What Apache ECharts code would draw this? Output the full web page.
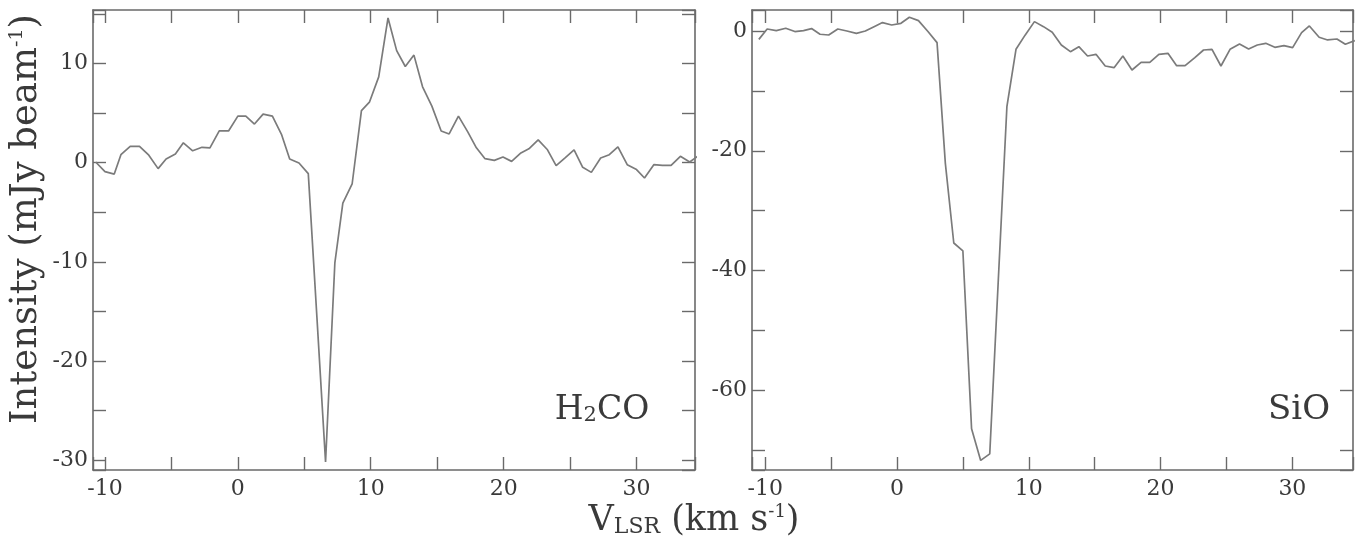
<!DOCTYPE html>
<html>
<head>
<meta charset="utf-8">
<script src="https://cdn.jsdelivr.net/npm/echarts@6/dist/echarts.min.js"></script>
<style>
html,body{margin:0;padding:0;background:#fff;}
#c{width:1372px;height:546px;}
</style>
</head>
<body>
<div id="c"></div>
<script>
// H2CO spectrum
var h2coVel = [-10.7,-10.0,-9.3,-8.8,-8.1,-7.4,-6.7,-6.0,-5.4,-4.7,-4.1,-3.4,-2.7,-2.1,-1.4,-0.7,0.0,0.6,1.25,1.9,2.6,3.3,3.9,4.6,5.3,5.95,6.6,7.3,7.9,8.6,9.3,9.9,10.6,11.3,11.95,12.6,13.25,13.9,14.6,15.3,15.9,16.6,17.3,17.95,18.6,19.3,19.95,20.6,21.3,21.9,22.6,23.3,23.95,24.6,25.3,25.95,26.6,27.3,27.95,28.6,29.3,30.0,30.6,31.3,31.95,32.6,33.3,34.0,34.6];
var h2coInt = [0.07,-0.9,-1.15,0.8,1.65,1.65,0.75,-0.6,0.37,0.88,2.0,1.2,1.55,1.5,3.2,3.2,4.7,4.7,3.9,4.9,4.7,2.8,0.37,-0.03,-1.1,-15.6,-30.2,-10.1,-4.07,-2.15,5.25,6.1,8.65,14.6,11.3,9.7,10.85,7.65,5.7,3.2,2.9,4.7,3.1,1.5,0.4,0.23,0.57,0.13,0.98,1.4,2.3,1.3,-0.3,0.47,1.3,-0.47,-0.98,0.47,0.8,1.6,-0.2,-0.7,-1.55,-0.2,-0.27,-0.27,0.64,0.07,0.64];
// SiO spectrum
var sioVel = [-10.48,-9.85,-9.16,-8.44,-7.75,-7.09,-6.48,-5.84,-5.18,-4.49,-3.8,-3.08,-2.4,-1.74,-1.1,-0.4,0.3,0.94,1.63,2.35,3.04,3.67,4.31,5.0,5.66,6.35,7.04,7.69,8.34,9.03,9.72,10.43,11.12,11.78,12.47,13.16,13.8,14.46,15.1,15.8,16.47,17.14,17.83,18.52,19.18,19.87,20.56,21.22,21.86,22.6,23.26,23.9,24.58,25.27,25.99,26.68,27.34,27.98,28.67,29.36,30.02,30.7,31.29,32.03,32.67,33.38,34.02,34.74];
var sioInt = [-1.4,0.33,0.05,0.45,-0.1,0.05,0.4,-0.55,-0.67,0.33,0,-0.4,0,0.72,1.4,1.0,1.28,2.29,1.73,-0.1,-1.95,-22.1,-35.4,-36.7,-66.4,-71.7,-70.6,-41.5,-12.65,-3.06,-0.7,1.56,0.72,-0.22,-2.34,-3.46,-2.62,-4.18,-3.9,-5.85,-6.13,-4.18,-6.52,-5.24,-5.24,-3.9,-3.73,-5.8,-5.8,-4.46,-3.18,-3.06,-5.85,-3.06,-2.17,-3.0,-2.34,-2.06,-2.73,-2.45,-2.79,-0.28,0.84,-1.06,-1.5,-1.34,-2.23,-1.62];
// axis labels
var xLabelTicks = [-10, 0, 10, 20, 30];
var leftYLabelTicks = [-30, -20, -10, 0, 10];
var rightYLabelTicks = [-60, -40, -20, 0];

function pairs(xs, ys){ return xs.map(function(x,i){ return [x, ys[i]]; }); }

var FONT = 'DejaVu Serif';
var AX = '#6a6a6a';
var TXT = '#3a3a3a';

function mkX(gi, min, max, pos){
  return {
    type:'value', gridIndex:gi, min:min, max:max, position:pos,
    minInterval:5, maxInterval:5, splitNumber:9,
    axisLine:{show:true, onZero:false, lineStyle:{color:AX, width:1.6}},
    axisTick:{show:true, inside:true, length:13, lineStyle:{color:AX, width:1.4}},
    splitLine:{show:false},
    axisLabel:{show:pos==='bottom', margin:8, color:TXT, fontFamily:FONT, fontSize:22,
      formatter:function(v){ return xLabelTicks.indexOf(Math.round(v))>=0 && Math.abs(v-Math.round(v))<1e-6 ? String(Math.round(v)) : ''; }}
  };
}
function mkY(gi, min, max, pos, step, labels){
  return {
    type:'value', gridIndex:gi, min:min, max:max, position:pos,
    minInterval:step, maxInterval:step, splitNumber:8,
    axisLine:{show:true, onZero:false, lineStyle:{color:AX, width:1.6}},
    axisTick:{show:true, inside:true, length:13, lineStyle:{color:AX, width:1.4}},
    splitLine:{show:false},
    axisLabel:{show:pos==='left', margin:5, color:TXT, fontFamily:FONT, fontSize:22,
      formatter:function(v){ var r=Math.round(v); return labels.indexOf(r)>=0 && Math.abs(v-r)<1e-6 ? String(r) : ''; }}
  };
}

var chart = echarts.init(document.getElementById('c'), null, {renderer:'canvas'});
chart.setOption({
  animation:false,
  backgroundColor:'#ffffff',
  grid:[
    {left:93, top:10, width:602, height:460},
    {left:752, top:10, width:601, height:460}
  ],
  xAxis:[
    mkX(0,-10.9,34.4,'bottom'), mkX(0,-10.9,34.4,'top'),
    mkX(1,-11,34.6,'bottom'), mkX(1,-11,34.6,'top')
  ],
  yAxis:[
    mkY(0,-31,15.4,'left',5,leftYLabelTicks), mkY(0,-31,15.4,'right',5,leftYLabelTicks),
    mkY(1,-73.3,3.5,'left',10,rightYLabelTicks), mkY(1,-73.3,3.5,'right',10,rightYLabelTicks)
  ],
  series:[
    {type:'line', xAxisIndex:0, yAxisIndex:0, data:pairs(h2coVel,h2coInt), symbol:'none',
      lineStyle:{color:'#7b7b7b', width:1.7}, clip:true},
    {type:'line', xAxisIndex:2, yAxisIndex:2, data:pairs(sioVel,sioInt), symbol:'none',
      lineStyle:{color:'#7b7b7b', width:1.7}, clip:true}
  ],
  graphic:[
    {type:'text', x:26, y:219, rotation:Math.PI/2, style:{
      text:'{a|Intensity (mJy beam}{s|-1}{a|)}', align:'center', verticalAlign:'middle', fill:TXT,
      rich:{a:{fontFamily:FONT, fontSize:37, fill:TXT}, s:{fontFamily:FONT, fontSize:19, fill:TXT, verticalAlign:'top', padding:[0,0,17,0]}}
    }},
    {type:'text', x:694, y:521, style:{
      text:'{a|V}{b|LSR}{a| (km s}{s|-1}{a|)}', align:'center', verticalAlign:'middle', fill:TXT,
      rich:{a:{fontFamily:FONT, fontSize:35, fill:TXT}, b:{fontFamily:FONT, fontSize:22, fill:TXT, verticalAlign:'bottom', padding:[9,0,0,0]}, s:{fontFamily:FONT, fontSize:18, fill:TXT, verticalAlign:'top', padding:[0,0,15,0]}}
    }},
    {type:'text', x:602, y:410, style:{
      text:'{a|H}{b|2}{a|CO}', align:'center', verticalAlign:'middle', fill:TXT,
      rich:{a:{fontFamily:FONT, fontSize:33, fill:TXT}, b:{fontFamily:FONT, fontSize:21, fill:TXT, verticalAlign:'bottom', padding:[9,0,0,0]}}
    }},
    {type:'text', x:1299, y:410, style:{
      text:'SiO', align:'center', verticalAlign:'middle', fill:TXT, fontFamily:FONT, fontSize:34
    }}
  ]
});
</script>
</body>
</html>
